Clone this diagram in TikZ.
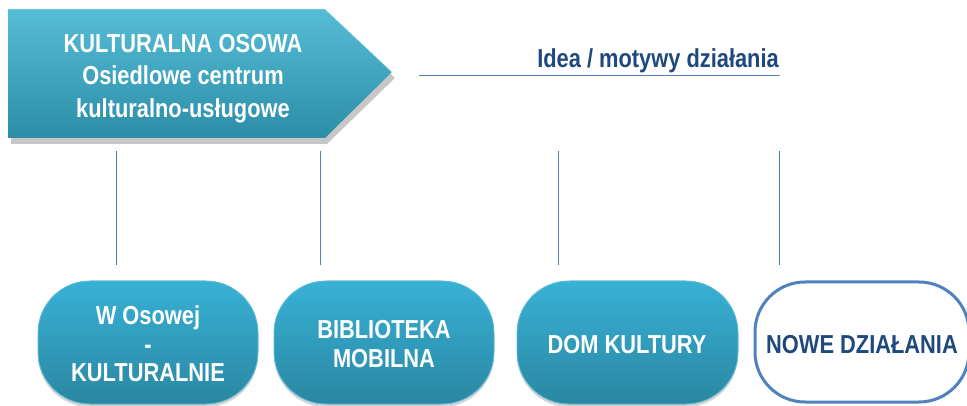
\documentclass[tikz,border=0pt]{standalone}
\usepackage{fontspec}
\setmainfont{Liberation Sans}[FakeStretch=0.84]
\usetikzlibrary{shadows}
\definecolor{tealtop}{HTML}{56BDD6}
\definecolor{tealbot}{HTML}{2C8DA7}
\definecolor{boxtop}{HTML}{38B1D5}
\definecolor{boxbot}{HTML}{2A87A2}
\definecolor{darkblue}{HTML}{1F497D}
\definecolor{linecol}{HTML}{4F81BD}
\tikzset{
  tealbox/.style={rounded corners=52pt, top color=boxtop, bottom color=boxbot, draw=boxtop!80!white, line width=0.8pt,
    drop shadow={shadow xshift=0pt, shadow yshift=-3pt, opacity=0.35}},
  whitebox/.style={rounded corners=50pt, fill=white, draw=linecol, line width=3pt},
  boxtext/.style={text=white, font=\bfseries\fontsize{26}{28.5}\selectfont, align=center},
  vline/.style={draw=linecol, line width=1pt},
}
\begin{document}
\begin{tikzpicture}[x=1pt,y=-1pt]
\useasboundingbox (0,0) rectangle (967,406);
% arrow
\fill[black, opacity=0.22] (11,14) -- (327,14) -- (395,78) -- (327,144) -- (11,144) -- cycle;
\shade[top color=tealtop, bottom color=tealbot] (8,9) -- (325,9) -- (392,72) -- (325,138) -- (8,138) -- cycle;
\draw[white, opacity=0.35, line width=1pt] (8,9) -- (325,9) -- (392,72);
\node[text=white, font=\bfseries\fontsize{26}{32.5}\selectfont, align=center] (title) at (183,78.5)
  {KULTURALNA OSOWA\\Osiedlowe centrum\\kulturalno-usługowe};
% heading
\node[text=darkblue, font=\bfseries\fontsize{26}{30}\selectfont, anchor=base east, inner sep=0pt] (idea) at (779,68) {Idea / motywy działania};
\coordinate (hl) at (419,75.5);
\coordinate (hr) at (780,75.5);
\draw[draw=linecol, line width=1.5pt] (hl) -- (hr);
% boxes
\filldraw[tealbox] (38,281) rectangle (258,404);
\filldraw[tealbox] (274,281) rectangle (494,404);
\filldraw[tealbox] (517,281) rectangle (738,404);
\filldraw[whitebox] (755,282) rectangle (969,402);
\node[boxtext] (b1) at (148,344) {W Osowej\\-\\KULTURALNIE};
\node[boxtext] (b2) at (384,344) {BIBLIOTEKA\\MOBILNA};
\node[boxtext] (b3) at (627,345) {DOM KULTURY};
\node[boxtext, text=darkblue] (b4) at (862,345) {NOWE DZIAŁANIA};
% vertical lines
\foreach \x [count=\i] in {116,320,558,779} {
  \coordinate (t\i) at (\x,151);
  \coordinate (u\i) at (\x,265);
  \draw[vline] (t\i) -- (u\i);
}
\end{tikzpicture}
\end{document}
